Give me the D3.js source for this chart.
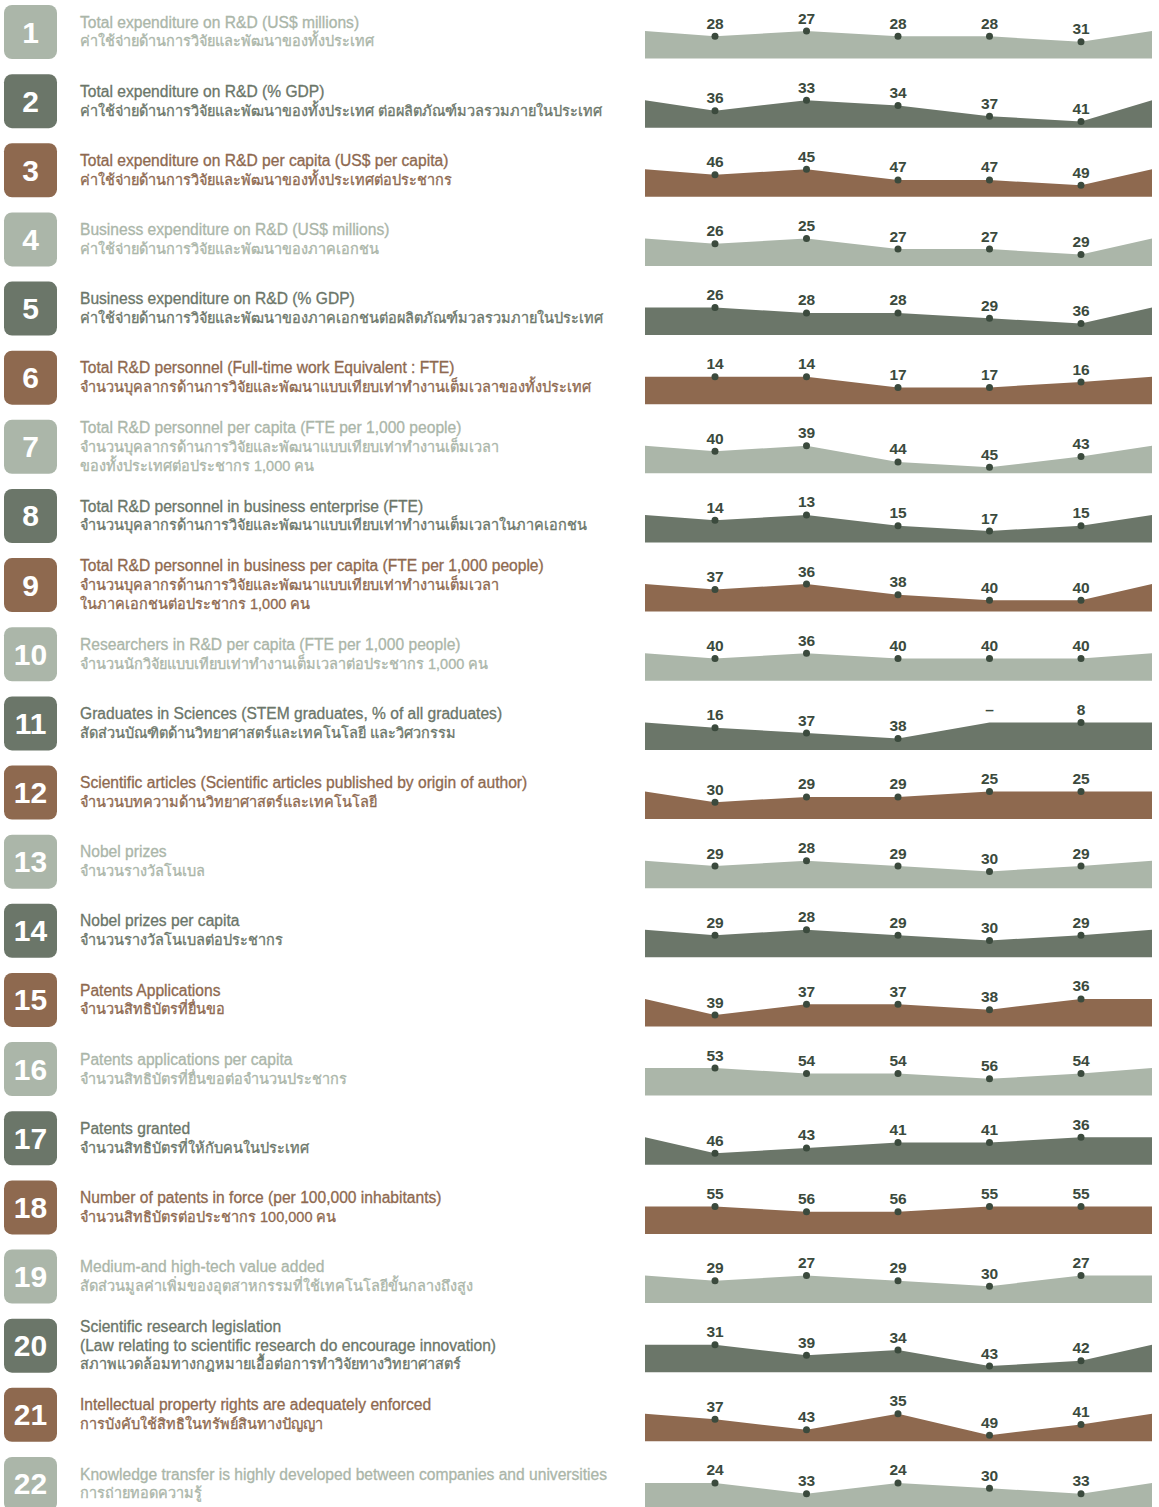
<!DOCTYPE html>
<html>
<head>
<meta charset="utf-8">
<script src="https://cdn.jsdelivr.net/npm/d3@7"></script>
<style>
  body { margin: 0; background: #fff; }
  svg { display: block; font-family: "Liberation Sans", "DejaVu Sans", "Noto Sans", sans-serif; }
</style>
</head>
<body>
<div id="chart"></div>
<script>
// ranking per indicator, 5 periods (null = no data)
const years = ["p1", "p2", "p3", "p4", "p5"];

const titlesEn = [
  ["Total expenditure on R&D (US$ millions)"],
  ["Total expenditure on R&D (% GDP)"],
  ["Total expenditure on R&D per capita (US$ per capita)"],
  ["Business expenditure on R&D (US$ millions)"],
  ["Business expenditure on R&D (% GDP)"],
  ["Total R&D personnel (Full-time work Equivalent : FTE)"],
  ["Total R&D personnel per capita (FTE per 1,000 people)"],
  ["Total R&D personnel in business enterprise (FTE)"],
  ["Total R&D personnel in business per capita (FTE per 1,000 people)"],
  ["Researchers in R&D per capita (FTE per 1,000 people)"],
  ["Graduates in Sciences (STEM graduates, % of all graduates)"],
  ["Scientific articles (Scientific articles published by origin of author)"],
  ["Nobel prizes"],
  ["Nobel prizes per capita"],
  ["Patents Applications"],
  ["Patents applications per capita"],
  ["Patents granted"],
  ["Number of patents in force (per 100,000 inhabitants)"],
  ["Medium-and high-tech value added"],
  ["Scientific research legislation", "(Law relating to scientific research do encourage innovation)"],
  ["Intellectual property rights are adequately enforced"],
  ["Knowledge transfer is highly developed between companies and universities"]
];

const titlesTh = [
  ["ค่าใช้จ่ายด้านการวิจัยและพัฒนาของทั้งประเทศ"],
  ["ค่าใช้จ่ายด้านการวิจัยและพัฒนาของทั้งประเทศ ต่อผลิตภัณฑ์มวลรวมภายในประเทศ"],
  ["ค่าใช้จ่ายด้านการวิจัยและพัฒนาของทั้งประเทศต่อประชากร"],
  ["ค่าใช้จ่ายด้านการวิจัยและพัฒนาของภาคเอกชน"],
  ["ค่าใช้จ่ายด้านการวิจัยและพัฒนาของภาคเอกชนต่อผลิตภัณฑ์มวลรวมภายในประเทศ"],
  ["จำนวนบุคลากรด้านการวิจัยและพัฒนาแบบเทียบเท่าทำงานเต็มเวลาของทั้งประเทศ"],
  ["จำนวนบุคลากรด้านการวิจัยและพัฒนาแบบเทียบเท่าทำงานเต็มเวลา", "ของทั้งประเทศต่อประชากร 1,000 คน"],
  ["จำนวนบุคลากรด้านการวิจัยและพัฒนาแบบเทียบเท่าทำงานเต็มเวลาในภาคเอกชน"],
  ["จำนวนบุคลากรด้านการวิจัยและพัฒนาแบบเทียบเท่าทำงานเต็มเวลา", "ในภาคเอกชนต่อประชากร 1,000 คน"],
  ["จำนวนนักวิจัยแบบเทียบเท่าทำงานเต็มเวลาต่อประชากร 1,000 คน"],
  ["สัดส่วนบัณฑิตด้านวิทยาศาสตร์และเทคโนโลยี และวิศวกรรม"],
  ["จำนวนบทความด้านวิทยาศาสตร์และเทคโนโลยี"],
  ["จำนวนรางวัลโนเบล"],
  ["จำนวนรางวัลโนเบลต่อประชากร"],
  ["จำนวนสิทธิบัตรที่ยื่นขอ"],
  ["จำนวนสิทธิบัตรที่ยื่นขอต่อจำนวนประชากร"],
  ["จำนวนสิทธิบัตรที่ให้กับคนในประเทศ"],
  ["จำนวนสิทธิบัตรต่อประชากร 100,000 คน"],
  ["สัดส่วนมูลค่าเพิ่มของอุตสาหกรรมที่ใช้เทคโนโลยีขั้นกลางถึงสูง"],
  ["สภาพแวดล้อมทางกฎหมายเอื้อต่อการทำวิจัยทางวิทยาศาสตร์"],
  ["การบังคับใช้สิทธิในทรัพย์สินทางปัญญา"],
  ["การถ่ายทอดความรู้"]
];

const ranks = [
  [28, 27, 28, 28, 31],
  [36, 33, 34, 37, 41],
  [46, 45, 47, 47, 49],
  [26, 25, 27, 27, 29],
  [26, 28, 28, 29, 36],
  [14, 14, 17, 17, 16],
  [40, 39, 44, 45, 43],
  [14, 13, 15, 17, 15],
  [37, 36, 38, 40, 40],
  [40, 36, 40, 40, 40],
  [16, 37, 38, null, 8],
  [30, 29, 29, 25, 25],
  [29, 28, 29, 30, 29],
  [29, 28, 29, 30, 29],
  [39, 37, 37, 38, 36],
  [53, 54, 54, 56, 54],
  [46, 43, 41, 41, 36],
  [55, 56, 56, 55, 55],
  [29, 27, 29, 30, 27],
  [31, 39, 34, 43, 42],
  [37, 43, 35, 49, 41],
  [24, 33, 24, 30, 33]
];

const palette = ["#abb6a9", "#6b7669", "#8e694f"];
const dotColor = "#3b4a3d";

const width = 1159, height = 1507;
const rowGap = 69.14, firstTop = 31;
const levelStep = 5.35, areaDepth = 27.5;
const areaLeft = 645, areaRight = 1152;

const svg = d3.select("#chart").append("svg")
    .attr("width", width)
    .attr("height", height);

const x = d3.scalePoint().domain(years).range([715, 1081]);

ranks.forEach((vals, i) => {
    const color = palette[i % 3];
    const top = firstTop + i * rowGap;
    const cy = top + 1;
    const g = svg.append("g").attr("class", "row");

    // badge
    g.append("rect")
        .attr("x", 4).attr("y", cy - 27)
        .attr("width", 53).attr("height", 54)
        .attr("rx", 8).attr("ry", 8)
        .attr("fill", color);
    g.append("text")
        .attr("x", 30.5).attr("y", cy + 10.5)
        .attr("text-anchor", "middle")
        .attr("fill", "#fff")
        .style("font-size", "30px")
        .style("font-weight", "bold")
        .text(i + 1);

    // labels, english first then thai
    const lines = titlesEn[i].map(t => ({ t: t, en: true }))
        .concat(titlesTh[i].map(t => ({ t: t, en: false })));
    const lh = 18.8;
    const startY = cy - (lines.length - 1) * lh / 2;
    g.selectAll("text.lbl")
        .data(lines)
        .enter().append("text")
        .attr("class", "lbl")
        .attr("x", 80)
        .attr("y", (d, k) => startY + k * lh + 5)
        .attr("fill", color)
        .attr("stroke", color)
        .attr("stroke-width", 0.3)
        .style("font-size", d => d.en ? "15.6px" : "14.5px")
        .text(d => d.t);

    // rank levels: each distinct rank gets its own step, best rank on top
    const levels = Array.from(new Set(vals.filter(v => v != null))).sort((a, b) => a - b);
    const y = d3.scalePoint()
        .domain(levels)
        .range([top, top + (levels.length - 1) * levelStep]);
    const yOf = v => v == null ? y(levels[0]) : y(v);

    const pts = [[areaLeft, y(levels[0])]]
        .concat(vals.map((v, k) => [x(years[k]), yOf(v)]))
        .concat([[areaRight, y(levels[0])]]);

    const area = d3.area()
        .x(d => d[0])
        .y0(top + areaDepth)
        .y1(d => d[1]);

    g.append("path")
        .datum(pts)
        .attr("d", area)
        .attr("fill", color);

    const pts5 = vals.map((v, k) => ({ v: v, x: x(years[k]), y: yOf(v) }));

    g.selectAll("circle")
        .data(pts5.filter(d => d.v != null))
        .enter().append("circle")
        .attr("cx", d => d.x)
        .attr("cy", d => d.y)
        .attr("r", 3.5)
        .attr("fill", dotColor);

    g.selectAll("text.val")
        .data(pts5)
        .enter().append("text")
        .attr("class", "val")
        .attr("x", d => d.x)
        .attr("y", d => d.y - 7.5)
        .attr("text-anchor", "middle")
        .attr("fill", dotColor)
        .style("font-size", "15.5px")
        .style("font-weight", "bold")
        .text(d => d.v == null ? "–" : d.v);
});
</script>
</body>
</html>
